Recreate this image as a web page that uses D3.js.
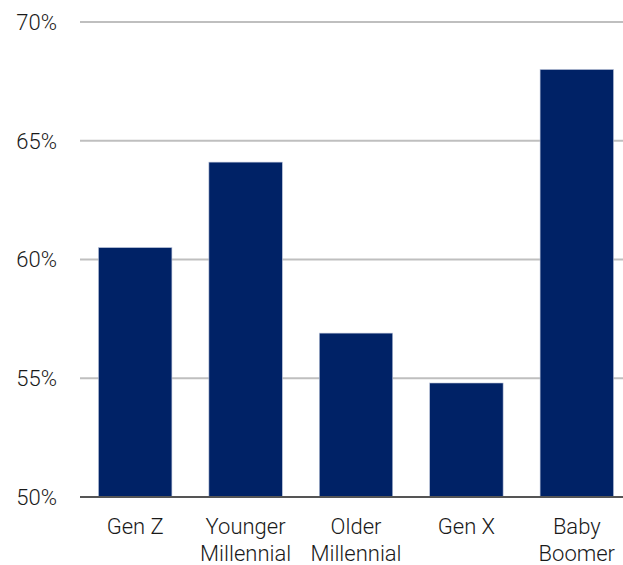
<!DOCTYPE html>
<html>
<head>
<meta charset="utf-8">
<script src="https://cdn.jsdelivr.net/npm/d3@7"></script>
<style>
  html, body { margin: 0; padding: 0; background: #fff; }
  svg { display: block; }
  text { font-family: Roboto, "Open Sans", sans-serif; fill: #1a1a1a; }
</style>
</head>
<body>
<div id="chart"></div>
<script>
// Share of respondents by generation
const categories = [["Gen Z"], ["Younger", "Millennial"], ["Older", "Millennial"], ["Gen X"], ["Baby", "Boomer"]];
const values = [60.5, 64.1, 56.9, 54.8, 68.0];
const yTicks = [50, 55, 60, 65, 70];

const width = 623, height = 565;
const margin = { left: 80, top: 22 };
const plotBottom = 497;

const svg = d3.select("#chart").append("svg")
  .attr("width", width).attr("height", height);

const keys = categories.map(c => c.join(" "));

const x = d3.scaleBand()
  .domain(keys)
  .range([margin.left, margin.left + 552])
  .paddingInner(0.335)
  .paddingOuter(0.1675);

const y = d3.scaleLinear()
  .domain([50, 70])
  .range([plotBottom, margin.top]);

// Horizontal gridlines
svg.append("g")
  .selectAll("line")
  .data(yTicks.filter(t => t > 50))
  .join("line")
  .attr("x1", margin.left).attr("x2", width)
  .attr("y1", d => y(d)).attr("y2", d => y(d))
  .attr("stroke", "#bfbfbf").attr("stroke-width", 2);

// Y tick labels
svg.append("g")
  .selectAll("text")
  .data(yTicks)
  .join("text")
  .attr("x", 57)
  .attr("y", d => y(d))
  .attr("dy", "0.36em")
  .attr("text-anchor", "end")
  .style("font-size", "22px")
  .style("font-weight", 300)
  .text(d => d + "%");

// Bars
svg.append("g")
  .selectAll("rect")
  .data(values)
  .join("rect")
  .attr("x", (d, i) => x(keys[i]))
  .attr("width", x.bandwidth())
  .attr("y", d => y(d))
  .attr("height", d => y(50) - y(d))
  .attr("fill", "#002266")
  .attr("stroke", "#b8c2d8")
  .attr("stroke-width", 0.6);

// Baseline
svg.append("line")
  .attr("x1", margin.left).attr("x2", width)
  .attr("y1", y(50)).attr("y2", y(50))
  .attr("stroke", "#555").attr("stroke-width", 2);

// Category labels
const lab = svg.append("g")
  .selectAll("text")
  .data(categories)
  .join("text")
  .attr("text-anchor", "middle")
  .attr("transform", (d, i) => `translate(${x(keys[i]) + x.bandwidth() / 2},534)`)
  .style("font-size", "22px")
  .style("font-weight", 300);

lab.selectAll("tspan")
  .data(d => d)
  .join("tspan")
  .attr("x", 0)
  .attr("y", (d, i) => i * 27)
  .text(d => d);
</script>
</body>
</html>
